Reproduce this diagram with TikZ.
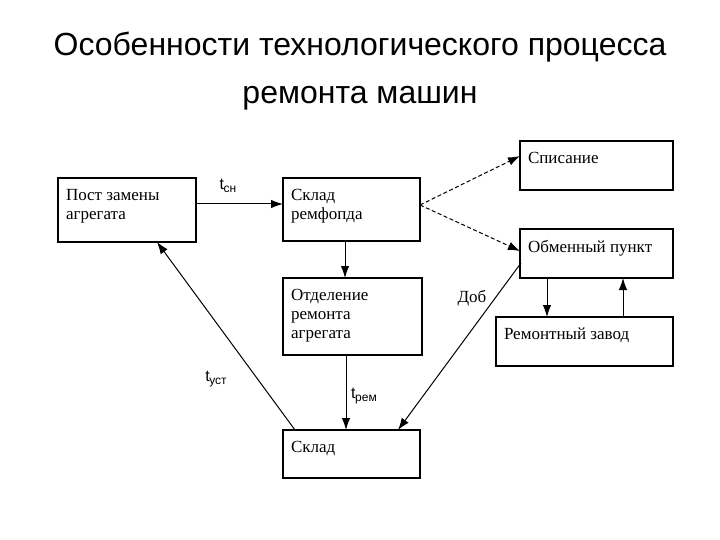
\documentclass[tikz,border=0pt]{standalone}
\usepackage{fontspec}
\setmainfont{Liberation Serif}
\newfontfamily\titlefont{Liberation Sans}
\usetikzlibrary{arrows.meta}
\tikzset{
  box/.style={draw, line width=1.1pt, anchor=north west, inner xsep=8pt, inner ysep=11pt, outer sep=0pt,
    font=\fontsize{17}{19}\selectfont},
  arr/.style={line width=1pt, -{Latex[length=12pt,width=8.5pt]}},
  darr/.style={arr, dashed, dash pattern=on 4pt off 2.5pt},
  lbl/.style={font=\titlefont\fontsize{16}{17}\selectfont, inner sep=0pt},
}
\newcommand{\boxtext}[3]{\parbox[c][#2][t]{#1}{\raggedright #3}}
\newcommand{\tsub}[1]{t\kern-0.5pt\raisebox{-2.5pt}{\fontsize{12}{12}\selectfont #1}}
\begin{document}
\begin{tikzpicture}[x=1pt,y=-1pt]
\useasboundingbox (0,0) rectangle (720,540);
\node[font=\titlefont\fontsize{32}{36}\selectfont, anchor=base] (t1) at (360,56) {Особенности технологического процесса};
\node[font=\titlefont\fontsize{32}{36}\selectfont, anchor=base] (t2) at (360,104) {ремонта машин};

\node[box] (post) at (58,178) {\boxtext{122pt}{42pt}{Пост замены\\агрегата}};
\node[box] (sklr) at (283,178) {\boxtext{121pt}{41pt}{Склад\\ремфопда}};
\node[box] (otd) at (283,278) {\boxtext{123pt}{55pt}{Отделение\\ремонта\\агрегата}};
\node[box] (skl) at (283,430) {\boxtext{121pt}{26pt}{Склад}};
\node[box] (spis) at (520,141) {\boxtext{137pt}{27pt}{Списание}};
\node[box] (obm) at (520,229) {\boxtext{137pt}{27pt}{Обменный пункт}};
\node[box] (rz) at (496,317) {\boxtext{161pt}{27pt}{Ремонтный завод}};

\draw[arr] (post.east |- 0,204) -- (sklr.west |- 0,204);
\node[lbl] (tsn) at (228,186) {\tsub{сн}};
\draw[arr] (345,241) -- (otd.north -| 345,0);
\draw[arr] (346,355) -- (skl.north -| 346,0);
\node[lbl] (trem) at (364,396) {\tsub{рем}};
\coordinate (sr) at (420,205);
\draw[darr] (sr) -- (520,156);
\draw[darr] (sr) -- (520,251);
\draw[arr] (547,278) -- (547,317);
\draw[arr] (623,317) -- (623,278);
\draw[arr] (521,263) -- (398,430);
\node[font=\fontsize{17}{18}\selectfont, inner sep=0pt] (dob) at (472,298) {Доб};
\draw[arr] (295,430) -- (157,242);
\node[lbl] (tust) at (216,379) {\tsub{уст}};
\end{tikzpicture}
\end{document}
